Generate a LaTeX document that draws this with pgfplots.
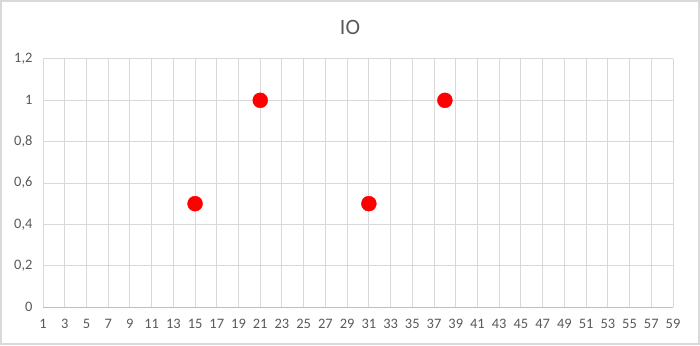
\documentclass[border=0pt]{standalone}
\usepackage{fontspec}
\setmainfont{Carlito}
\usepackage{pgfplots}
\pgfplotsset{compat=1.18}
\definecolor{txt}{HTML}{595959}
\definecolor{grd}{HTML}{D9D9D9}
\definecolor{axl}{HTML}{BFBFBF}
\begin{document}
\begin{tikzpicture}[x=1bp,y=1bp]
\useasboundingbox (0,0) rectangle (700,345);
\draw[grd, line width=1.4bp] (1,1) rectangle (699,344);
\node[text=txt, font=\fontsize{22}{26}\selectfont] at (350,318) {IO};
\begin{axis}[
  at={(43bp,38bp)}, anchor=south west,
  scale only axis, width=630bp, height=248bp,
  xmin=1, xmax=59, ymin=0, ymax=1.2,
  xtick={1,3,...,59},
  ytick={0,0.2,0.4,0.6,0.8,1,1.2},
  /pgf/number format/use comma,
  /pgf/number format/assume math mode=true,
  grid=major,
  major grid style={grd, line width=1bp},
  major tick length=0pt,
  axis x line*=bottom, axis y line*=left,
  x axis line style={axl, line width=1bp, -},
  y axis line style={draw=none},
  tick label style={text=txt, font=\fontsize{14.5}{17}\selectfont},
  xticklabel style={yshift=-9bp},
  yticklabel style={xshift=-7bp},
  clip=false,
]
\addplot[only marks, mark=*, mark size=7.5bp, color=red, mark options={fill=red, draw=red}]
  coordinates {(15,0.5) (21,1) (31,0.5) (38,1)};
\end{axis}
\end{tikzpicture}
\end{document}
